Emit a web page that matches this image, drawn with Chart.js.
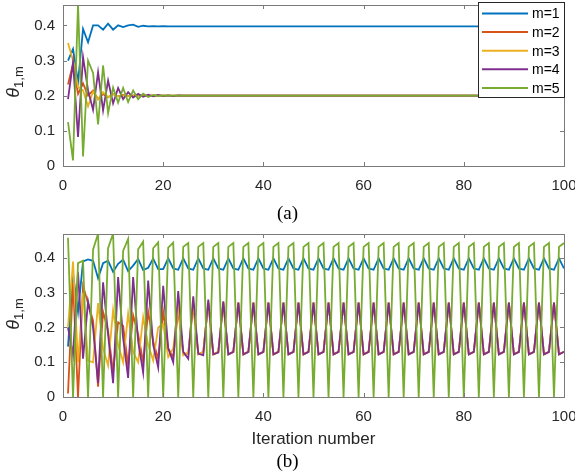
<!DOCTYPE html>
<html lang="en">
<head>
<meta charset="UTF-8">
<title>theta 1,m vs iteration</title>
<script src="https://cdn.jsdelivr.net/npm/chart.js@4.4.1/dist/chart.umd.min.js"></script>
<style>
  body { margin: 0; background: #fff; width: 575px; height: 476px; position: relative; overflow: hidden; }
  canvas { position: absolute; left: 0; }
  #chartA { top: 0; }
  #chartB { top: 200px; }
  .ylab {
    position: absolute; width: 80px; height: 22px; line-height: 22px; text-align: center;
    font-family: "Liberation Sans", Arial, sans-serif; font-size: 17px; color: #262626;
    transform: rotate(-90deg); white-space: nowrap;
  }
  .ylab i { font-size: 18px; }
  .ylab sub { font-size: 13px; }
  .cap {
    position: absolute; left: 0; width: 575px; text-align: center; line-height: 20px;
    font-family: "Liberation Serif", "Times New Roman", serif; font-size: 19px; color: #000;
  }
</style>
</head>
<body>
<canvas id="chartA" width="575" height="200"></canvas>
<canvas id="chartB" width="575" height="276"></canvas>
<div class="ylab" style="left:-27px; top:71px;"><i>θ</i><sub>1,m</sub></div>
<div class="ylab" style="left:-27px; top:303px;"><i>θ</i><sub>1,m</sub></div>
<div class="cap" style="top:203px;">(a)</div>
<div class="cap" style="top:451px;">(b)</div>
<script>
// iteration numbers
const iterations = [
  1, 2, 3, 4, 5, 6, 7, 8, 9, 10,
  11, 12, 13, 14, 15, 16, 17, 18, 19, 20,
  21, 22, 23, 24, 25, 26, 27, 28, 29, 30,
  31, 32, 33, 34, 35, 36, 37, 38, 39, 40,
  41, 42, 43, 44, 45, 46, 47, 48, 49, 50,
  51, 52, 53, 54, 55, 56, 57, 58, 59, 60,
  61, 62, 63, 64, 65, 66, 67, 68, 69, 70,
  71, 72, 73, 74, 75, 76, 77, 78, 79, 80,
  81, 82, 83, 84, 85, 86, 87, 88, 89, 90,
  91, 92, 93, 94, 95, 96, 97, 98, 99, 100
];
const seriesNames = ['m=1', 'm=2', 'm=3', 'm=4', 'm=5'];
const xTicks = [0, 20, 40, 60, 80, 100];
const yTicks = [0, 0.1, 0.2, 0.3, 0.4];

// (a) converging case
const a_m1 = [
  0.300, 0.333, 0.238, 0.390, 0.352, 0.400, 0.400, 0.388, 0.405, 0.388,
  0.400, 0.395, 0.400, 0.402, 0.396, 0.399, 0.397, 0.398, 0.397, 0.398,
  0.397, 0.397, 0.397, 0.397, 0.397, 0.397, 0.397, 0.397, 0.397, 0.397,
  0.397, 0.397, 0.397, 0.397, 0.397, 0.397, 0.397, 0.397, 0.397, 0.397,
  0.397, 0.397, 0.397, 0.397, 0.397, 0.397, 0.397, 0.397, 0.397, 0.397,
  0.397, 0.397, 0.397, 0.397, 0.397, 0.397, 0.397, 0.397, 0.397, 0.397,
  0.397, 0.397, 0.397, 0.397, 0.397, 0.397, 0.397, 0.397, 0.397, 0.397,
  0.397, 0.397, 0.397, 0.397, 0.397, 0.397, 0.397, 0.397, 0.397, 0.397,
  0.397, 0.397, 0.397, 0.397, 0.397, 0.397, 0.397, 0.397, 0.397, 0.397,
  0.397, 0.397, 0.397, 0.397, 0.397, 0.397, 0.397, 0.397, 0.397, 0.397
];
const a_m2 = [
  0.232, 0.290, 0.205, 0.235, 0.200, 0.215, 0.190, 0.205, 0.195, 0.205,
  0.198, 0.202, 0.199, 0.201, 0.200, 0.200, 0.200, 0.200, 0.200, 0.200,
  0.200, 0.200, 0.200, 0.200, 0.200, 0.200, 0.200, 0.200, 0.200, 0.200,
  0.200, 0.200, 0.200, 0.200, 0.200, 0.200, 0.200, 0.200, 0.200, 0.200,
  0.200, 0.200, 0.200, 0.200, 0.200, 0.200, 0.200, 0.200, 0.200, 0.200,
  0.200, 0.200, 0.200, 0.200, 0.200, 0.200, 0.200, 0.200, 0.200, 0.200,
  0.200, 0.200, 0.200, 0.200, 0.200, 0.200, 0.200, 0.200, 0.200, 0.200,
  0.200, 0.200, 0.200, 0.200, 0.200, 0.200, 0.200, 0.200, 0.200, 0.200,
  0.200, 0.200, 0.200, 0.200, 0.200, 0.200, 0.200, 0.200, 0.200, 0.200,
  0.200, 0.200, 0.200, 0.200, 0.200, 0.200, 0.200, 0.200, 0.200, 0.200
];
const a_m3 = [
  0.350, 0.300, 0.225, 0.215, 0.170, 0.212, 0.190, 0.210, 0.196, 0.205,
  0.198, 0.201, 0.199, 0.200, 0.200, 0.200, 0.200, 0.200, 0.200, 0.200,
  0.200, 0.200, 0.200, 0.200, 0.200, 0.200, 0.200, 0.200, 0.200, 0.200,
  0.200, 0.200, 0.200, 0.200, 0.200, 0.200, 0.200, 0.200, 0.200, 0.200,
  0.200, 0.200, 0.200, 0.200, 0.200, 0.200, 0.200, 0.200, 0.200, 0.200,
  0.200, 0.200, 0.200, 0.200, 0.200, 0.200, 0.200, 0.200, 0.200, 0.200,
  0.200, 0.200, 0.200, 0.200, 0.200, 0.200, 0.200, 0.200, 0.200, 0.200,
  0.200, 0.200, 0.200, 0.200, 0.200, 0.200, 0.200, 0.200, 0.200, 0.200,
  0.200, 0.200, 0.200, 0.200, 0.200, 0.200, 0.200, 0.200, 0.200, 0.200,
  0.200, 0.200, 0.200, 0.200, 0.200, 0.200, 0.200, 0.200, 0.200, 0.200
];
const a_m4 = [
  0.190, 0.295, 0.083, 0.310, 0.215, 0.160, 0.267, 0.158, 0.243, 0.178,
  0.222, 0.190, 0.210, 0.195, 0.205, 0.197, 0.203, 0.198, 0.202, 0.199,
  0.201, 0.199, 0.201, 0.200, 0.200, 0.200, 0.200, 0.200, 0.200, 0.200,
  0.200, 0.200, 0.200, 0.200, 0.200, 0.200, 0.200, 0.200, 0.200, 0.200,
  0.200, 0.200, 0.200, 0.200, 0.200, 0.200, 0.200, 0.200, 0.200, 0.200,
  0.200, 0.200, 0.200, 0.200, 0.200, 0.200, 0.200, 0.200, 0.200, 0.200,
  0.200, 0.200, 0.200, 0.200, 0.200, 0.200, 0.200, 0.200, 0.200, 0.200,
  0.200, 0.200, 0.200, 0.200, 0.200, 0.200, 0.200, 0.200, 0.200, 0.200,
  0.200, 0.200, 0.200, 0.200, 0.200, 0.200, 0.200, 0.200, 0.200, 0.200,
  0.200, 0.200, 0.200, 0.200, 0.200, 0.200, 0.200, 0.200, 0.200, 0.200
];
const a_m5 = [
  0.125, 0.016, 0.460, 0.027, 0.300, 0.265, 0.118, 0.286, 0.150, 0.223,
  0.180, 0.222, 0.182, 0.215, 0.190, 0.206, 0.196, 0.202, 0.199, 0.201,
  0.200, 0.200, 0.200, 0.200, 0.200, 0.200, 0.200, 0.200, 0.200, 0.200,
  0.200, 0.200, 0.200, 0.200, 0.200, 0.200, 0.200, 0.200, 0.200, 0.200,
  0.200, 0.200, 0.200, 0.200, 0.200, 0.200, 0.200, 0.200, 0.200, 0.200,
  0.200, 0.200, 0.200, 0.200, 0.200, 0.200, 0.200, 0.200, 0.200, 0.200,
  0.200, 0.200, 0.200, 0.200, 0.200, 0.200, 0.200, 0.200, 0.200, 0.200,
  0.200, 0.200, 0.200, 0.200, 0.200, 0.200, 0.200, 0.200, 0.200, 0.200,
  0.200, 0.200, 0.200, 0.200, 0.200, 0.200, 0.200, 0.200, 0.200, 0.200,
  0.200, 0.200, 0.200, 0.200, 0.200, 0.200, 0.200, 0.200, 0.200, 0.200
];

// (b) oscillating case (period 3 after the transient)
const b_m1 = [
  0.145, 0.355, 0.245, 0.390, 0.396, 0.392, 0.342, 0.385, 0.392, 0.360,
  0.383, 0.395, 0.362, 0.378, 0.397, 0.365, 0.372, 0.398, 0.368, 0.368,
  0.399, 0.370, 0.366, 0.399, 0.370, 0.366, 0.399, 0.370, 0.366, 0.399,
  0.370, 0.366, 0.399, 0.370, 0.366, 0.399, 0.370, 0.366, 0.399, 0.370,
  0.366, 0.399, 0.370, 0.366, 0.399, 0.370, 0.366, 0.399, 0.370, 0.366,
  0.399, 0.370, 0.366, 0.399, 0.370, 0.366, 0.399, 0.370, 0.366, 0.399,
  0.370, 0.366, 0.399, 0.370, 0.366, 0.399, 0.370, 0.366, 0.399, 0.370,
  0.366, 0.399, 0.370, 0.366, 0.399, 0.370, 0.366, 0.399, 0.370, 0.366,
  0.399, 0.370, 0.366, 0.399, 0.370, 0.366, 0.399, 0.370, 0.366, 0.399,
  0.370, 0.366, 0.399, 0.370, 0.366, 0.399, 0.370, 0.366, 0.399, 0.370
];
const b_m2 = [
  0.010, 0.330, 0.000, 0.320, 0.270, 0.220, 0.030, 0.245, 0.190, 0.070,
  0.215, 0.205, 0.090, 0.235, 0.180, 0.100, 0.245, 0.160, 0.110, 0.245,
  0.140, 0.115, 0.250, 0.125, 0.125, 0.265, 0.123, 0.130, 0.272, 0.123,
  0.130, 0.272, 0.123, 0.130, 0.272, 0.123, 0.130, 0.272, 0.123, 0.130,
  0.272, 0.123, 0.130, 0.272, 0.123, 0.130, 0.272, 0.123, 0.130, 0.272,
  0.123, 0.130, 0.272, 0.123, 0.130, 0.272, 0.123, 0.130, 0.272, 0.123,
  0.130, 0.272, 0.123, 0.130, 0.272, 0.123, 0.130, 0.272, 0.123, 0.130,
  0.272, 0.123, 0.130, 0.272, 0.123, 0.130, 0.272, 0.123, 0.130, 0.272,
  0.123, 0.130, 0.272, 0.123, 0.130, 0.272, 0.123, 0.130, 0.272, 0.123,
  0.130, 0.272, 0.123, 0.130, 0.272, 0.123, 0.130, 0.272, 0.123, 0.130
];
const b_m3 = [
  0.200, 0.390, 0.100, 0.300, 0.105, 0.100, 0.270, 0.140, 0.090, 0.250,
  0.150, 0.100, 0.240, 0.130, 0.100, 0.230, 0.150, 0.105, 0.200, 0.210,
  0.115, 0.140, 0.260, 0.120, 0.128, 0.270, 0.123, 0.130, 0.272, 0.123,
  0.130, 0.272, 0.123, 0.130, 0.272, 0.123, 0.130, 0.272, 0.123, 0.130,
  0.272, 0.123, 0.130, 0.272, 0.123, 0.130, 0.272, 0.123, 0.130, 0.272,
  0.123, 0.130, 0.272, 0.123, 0.130, 0.272, 0.123, 0.130, 0.272, 0.123,
  0.130, 0.272, 0.123, 0.130, 0.272, 0.123, 0.130, 0.272, 0.123, 0.130,
  0.272, 0.123, 0.130, 0.272, 0.123, 0.130, 0.272, 0.123, 0.130, 0.272,
  0.123, 0.130, 0.272, 0.123, 0.130, 0.272, 0.123, 0.130, 0.272, 0.123,
  0.130, 0.272, 0.123, 0.130, 0.272, 0.123, 0.130, 0.272, 0.123, 0.130
];
const b_m4 = [
  0.200, 0.120, 0.360, 0.110, 0.275, 0.200, 0.040, 0.330, 0.180, 0.040,
  0.345, 0.170, 0.055, 0.345, 0.160, 0.070, 0.335, 0.150, 0.085, 0.320,
  0.140, 0.100, 0.305, 0.130, 0.110, 0.290, 0.125, 0.120, 0.280, 0.123,
  0.128, 0.275, 0.123, 0.130, 0.272, 0.123, 0.130, 0.272, 0.123, 0.130,
  0.272, 0.123, 0.130, 0.272, 0.123, 0.130, 0.272, 0.123, 0.130, 0.272,
  0.123, 0.130, 0.272, 0.123, 0.130, 0.272, 0.123, 0.130, 0.272, 0.123,
  0.130, 0.272, 0.123, 0.130, 0.272, 0.123, 0.130, 0.272, 0.123, 0.130,
  0.272, 0.123, 0.130, 0.272, 0.123, 0.130, 0.272, 0.123, 0.130, 0.272,
  0.123, 0.130, 0.272, 0.123, 0.130, 0.272, 0.123, 0.130, 0.272, 0.123,
  0.130, 0.272, 0.123, 0.130, 0.272, 0.123, 0.130, 0.272, 0.123, 0.130
];
const b_m5 = [
  0.458, 0.000, 0.385, 0.392, 0.000, 0.424, 0.470, 0.000, 0.428, 0.470,
  0.000, 0.420, 0.455, 0.000, 0.425, 0.447, 0.000, 0.428, 0.445, 0.000,
  0.430, 0.444, 0.000, 0.432, 0.443, 0.000, 0.432, 0.443, 0.000, 0.432,
  0.443, 0.000, 0.432, 0.443, 0.000, 0.432, 0.443, 0.000, 0.432, 0.443,
  0.000, 0.432, 0.443, 0.000, 0.432, 0.443, 0.000, 0.432, 0.443, 0.000,
  0.432, 0.443, 0.000, 0.432, 0.443, 0.000, 0.432, 0.443, 0.000, 0.432,
  0.443, 0.000, 0.432, 0.443, 0.000, 0.432, 0.443, 0.000, 0.432, 0.443,
  0.000, 0.432, 0.443, 0.000, 0.432, 0.443, 0.000, 0.432, 0.443, 0.000,
  0.432, 0.443, 0.000, 0.432, 0.443, 0.000, 0.432, 0.443, 0.000, 0.432,
  0.443, 0.000, 0.432, 0.443, 0.000, 0.432, 0.443, 0.000, 0.432, 0.443
];

const colors = ['#0072BD', '#D95319', '#EDB120', '#7E2F8E', '#77AC30'];
const FONT = '"Liberation Sans", Arial, sans-serif';
const AXIS = '#262626';

function makeDatasets(list) {
  return list.map((arr, i) => ({
    label: seriesNames[i],
    data: arr,
    borderColor: colors[i],
    backgroundColor: colors[i],
    borderWidth: 1.8,
    pointRadius: 0,
    tension: 0,
    order: list.length - i   // later series drawn on top, like matlab
  }));
}

// box + inward ticks on all four sides
const boxTicks = {
  id: 'boxTicks',
  afterDatasetsDraw(chart) {
    const { ctx, chartArea: a, scales: { x, y } } = chart;
    const len = 4;
    ctx.save();
    ctx.strokeStyle = '#7a7a7a';
    ctx.lineWidth = 1;
    ctx.strokeRect(Math.round(a.left) + 0.5, Math.round(a.top) + 0.5,
      Math.round(a.right - a.left), Math.round(a.bottom - a.top));
    ctx.beginPath();
    xTicks.forEach(v => {
      const px = Math.round(x.getPixelForValue(v)) + 0.5;
      ctx.moveTo(px, a.bottom); ctx.lineTo(px, a.bottom - len);
      ctx.moveTo(px, a.top); ctx.lineTo(px, a.top + len);
    });
    yTicks.forEach(v => {
      const py = Math.round(y.getPixelForValue(v)) + 0.5;
      ctx.moveTo(a.left, py); ctx.lineTo(a.left + len, py);
      ctx.moveTo(a.right, py); ctx.lineTo(a.right - len, py);
    });
    ctx.stroke();
    ctx.restore();
  }
};

// legend sitting in the top right corner of the axes
const cornerLegend = {
  id: 'cornerLegend',
  afterDraw(chart, args, opts) {
    if (!opts.show) return;
    const { ctx, chartArea: a } = chart;
    const w = 86, h = 95;
    const x0 = a.right - w, y0 = a.top - 3;
    ctx.save();
    ctx.fillStyle = '#fff';
    ctx.fillRect(x0, y0, w, h);
    ctx.strokeStyle = '#262626';
    ctx.lineWidth = 1;
    ctx.strokeRect(Math.round(x0) + 0.5, Math.round(y0) + 0.5, w, h);
    ctx.font = '14px ' + FONT;
    ctx.textBaseline = 'middle';
    chart.data.datasets.forEach((ds, i) => {
      const cy = y0 + 11.5 + i * 18.6;
      ctx.strokeStyle = ds.borderColor;
      ctx.lineWidth = 2;
      ctx.beginPath();
      ctx.moveTo(x0 + 4, cy); ctx.lineTo(x0 + 50, cy);
      ctx.stroke();
      ctx.fillStyle = '#000';
      ctx.fillText(ds.label, x0 + 54, cy + 1);
    });
    ctx.restore();
  }
};

function makeChart(id, data, yMax, cfg) {
  return new Chart(document.getElementById(id), {
    type: 'line',
    data: { labels: iterations, datasets: makeDatasets(data) },
    plugins: [boxTicks, cornerLegend],
    options: {
      responsive: false,
      animation: false,
      devicePixelRatio: 1,
      events: [],
      layout: { padding: { left: 23, right: 11, top: cfg.top, bottom: 0 } },
      plugins: {
        legend: { display: false },
        tooltip: { enabled: false },
        cornerLegend: { show: cfg.legend }
      },
      scales: {
        x: {
          type: 'linear', min: 0, max: 100,
          grid: { display: false, drawTicks: false },
          border: { display: false },
          ticks: { stepSize: 20, maxRotation: 0, color: AXIS, padding: 11, font: { family: FONT, size: 15 } },
          title: {
            display: !!cfg.xTitle, text: cfg.xTitle || '', color: AXIS,
            font: { family: FONT, size: 17 }, padding: { top: 0, bottom: 26 }
          },
          afterFit(s) { s.height = cfg.xHeight; s.paddingLeft = 0; s.paddingRight = 0; }
        },
        y: {
          min: 0, max: yMax,
          grid: { display: false, drawTicks: false },
          border: { display: false },
          ticks: { stepSize: 0.1, includeBounds: false, color: AXIS, padding: 8, font: { family: FONT, size: 15 } },
          afterFit(s) { s.width = 40; s.paddingTop = 0; s.paddingBottom = 0; }
        }
      }
    }
  });
}

makeChart('chartA', [a_m1, a_m2, a_m3, a_m4, a_m5], 0.458, { top: 5, xHeight: 34, legend: true });
makeChart('chartB', [b_m1, b_m2, b_m3, b_m4, b_m5], 0.469, { top: 34, xHeight: 79, legend: false, xTitle: 'Iteration number' });
</script>
</body>
</html>
